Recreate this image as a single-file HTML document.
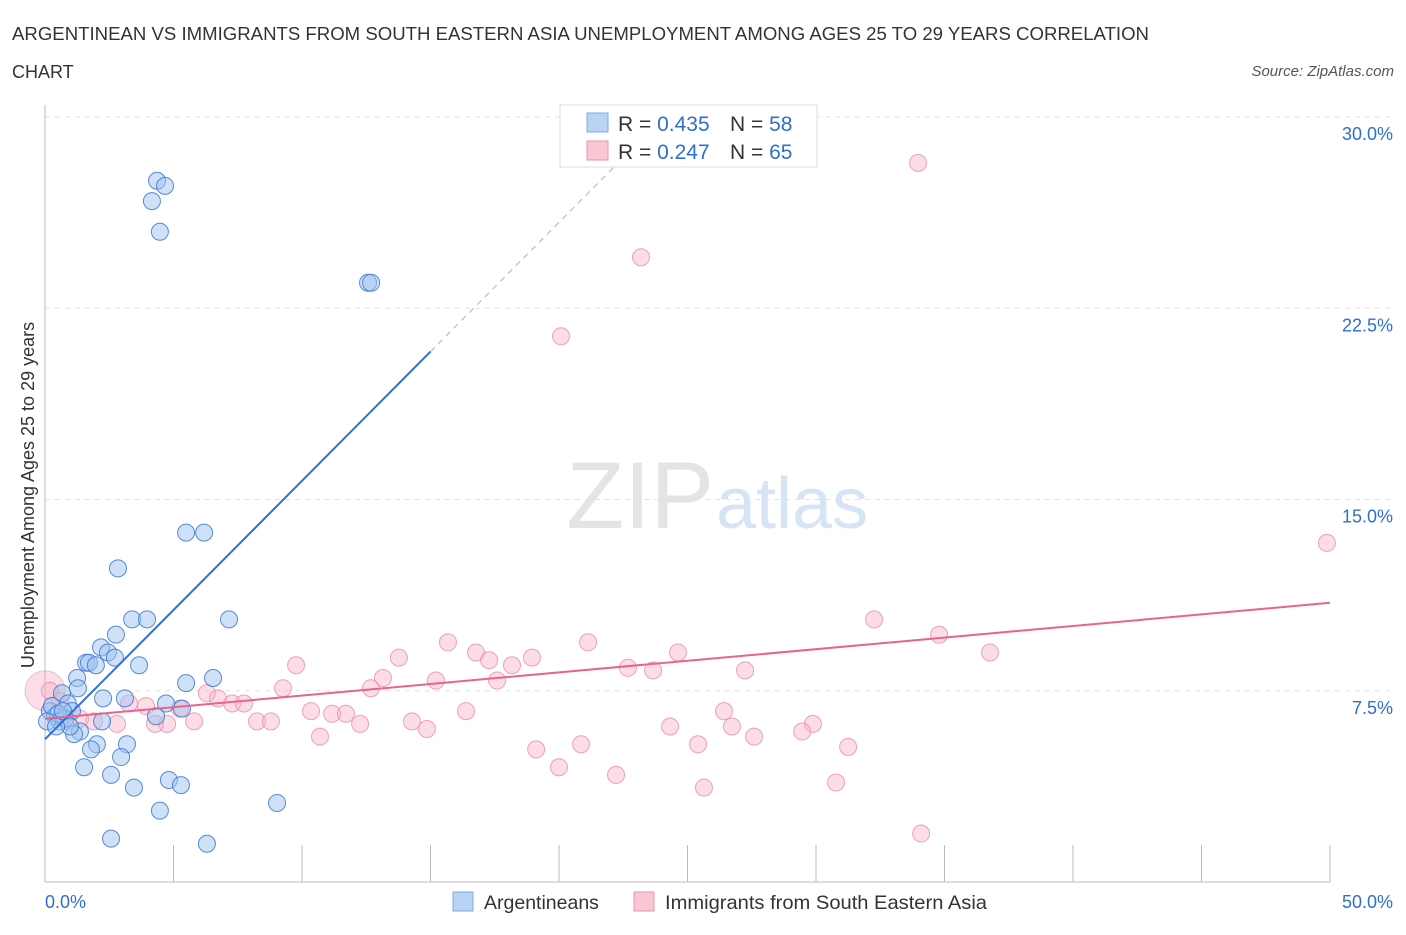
<!DOCTYPE html>
<html><head><meta charset="utf-8"><style>
body{margin:0;background:#fff;font-family:"Liberation Sans",sans-serif}
svg text{font-family:"Liberation Sans",sans-serif}
</style></head><body>
<svg id="c" width="1406" height="930">
<text x="12" y="40" font-size="18" fill="#333" textLength="1137" lengthAdjust="spacingAndGlyphs">ARGENTINEAN VS IMMIGRANTS FROM SOUTH EASTERN ASIA UNEMPLOYMENT AMONG AGES 25 TO 29 YEARS CORRELATION</text>
<text x="12" y="78" font-size="18" fill="#333">CHART</text>
<text x="1394" y="76" font-size="15" fill="#555" text-anchor="end" font-style="italic">Source: ZipAtlas.com</text>
<text x="714" y="528" font-size="95" fill="#e4e4e4" text-anchor="end" font-family="Liberation Serif">ZIP</text>
<text x="716" y="528" font-size="72" fill="#d6e4f5">atlas</text>
<g id="grid"></g><g id="axes"></g><g id="pts"></g><g id="lines"></g>
<text transform="translate(34,495) rotate(-90)" font-size="18" fill="#333" text-anchor="middle">Unemployment Among Ages 25 to 29 years</text>
<g>
<rect x="560" y="105" width="257" height="62" fill="#fff" stroke="#ddd"/>
<rect x="587" y="113" width="21" height="19" fill="#b8d3f5" stroke="#7ea8e0"/>
<rect x="587" y="141" width="21" height="19" fill="#f9c6d4" stroke="#eb93ad"/>
<text x="618" y="131" font-size="21" fill="#333">R = <tspan fill="#2f6fd0">0.435</tspan></text>
<text x="730" y="131" font-size="21" fill="#333">N = <tspan fill="#2f6fd0">58</tspan></text>
<text x="618" y="159" font-size="21" fill="#333">R = <tspan fill="#2f6fd0">0.247</tspan></text>
<text x="730" y="159" font-size="21" fill="#333">N = <tspan fill="#2f6fd0">65</tspan></text>
</g>
<g>
<rect x="453" y="892" width="20" height="19" fill="#b8d3f5" stroke="#7ea8e0"/>
<text x="484" y="909" font-size="19.5" fill="#333">Argentineans</text>
<rect x="634" y="892" width="20" height="19" fill="#f9c6d4" stroke="#eb93ad"/>
<text x="665" y="909" font-size="19.5" fill="#333" textLength="322" lengthAdjust="spacingAndGlyphs">Immigrants from South Eastern Asia</text>
</g>
</svg>
<script>
const yTicks=[7.5,15,22.5,30];
const yTickLabels=["7.5%","15.0%","22.5%","30.0%"];
const xTickLabels=["0.0%","50.0%"];
const blueX=[4.36,4.67,4.16,4.47,12.57,12.69,5.49,6.19,2.84,3.39,3.97,7.16,2.76,2.18,2.45,1.60,1.71,1.98,2.72,3.66,1.25,1.28,6.54,5.49,0.66,2.26,3.11,4.71,5.33,0.89,1.05,0.19,0.39,0.58,0.78,2.22,4.32,1.36,1.13,2.02,3.19,1.79,2.96,1.52,2.57,4.82,5.29,3.46,4.47,9.03,2.57,6.30,0.27,0.51,0.08,0.97,0.70,0.43];
const blueY=[27.5,27.3,26.7,25.5,23.5,23.5,13.7,13.7,12.3,10.3,10.3,10.3,9.7,9.2,9.0,8.6,8.6,8.5,8.8,8.5,8.0,7.6,8.0,7.8,7.4,7.2,7.2,7.0,6.8,7.0,6.7,6.7,6.5,6.3,6.4,6.3,6.5,5.9,5.8,5.4,5.4,5.2,4.9,4.5,4.2,4.0,3.8,3.7,2.8,3.1,1.7,1.5,6.9,6.6,6.3,6.1,6.7,6.1];
const pinkX=[33.97,23.19,20.08,49.88,32.26,34.79,36.77,21.13,15.68,16.77,17.28,18.95,18.17,24.63,22.68,23.66,27.24,13.77,13.15,9.77,9.26,12.68,15.21,17.59,6.30,6.73,7.28,7.74,3.27,3.93,5.25,10.35,11.17,11.71,16.38,14.28,14.86,12.26,10.70,8.25,8.79,5.80,4.75,4.28,2.80,1.91,0.89,1.36,26.42,24.32,26.73,29.88,29.46,27.59,25.41,20.86,19.11,31.25,20.0,22.22,25.64,30.78,34.09,0.19,0.58];
const pinkY=[28.2,24.5,21.4,13.3,10.3,9.7,9.0,9.4,9.4,9.0,8.7,8.8,8.5,9.0,8.4,8.3,8.3,8.8,8.0,8.5,7.6,7.6,7.9,7.9,7.4,7.2,7.0,7.0,7.0,6.9,6.8,6.7,6.6,6.6,6.7,6.3,6.0,6.2,5.7,6.3,6.3,6.3,6.2,6.2,6.2,6.3,6.3,6.4,6.7,6.1,6.1,6.2,5.9,5.7,5.4,5.4,5.2,5.3,4.5,4.2,3.7,3.9,1.9,7.5,7.1];
const blueFit=[[0,5.6],[15,20.8]];
const blueDash=[[15,20.8],[22.2,28.1]];
const pinkFit=[[0,6.4],[50,10.95]];
const X=v=>45+v*25.7, Y=v=>882-v*25.5;
const NS="http://www.w3.org/2000/svg";
function mk(t,a,p){const e=document.createElementNS(NS,t);for(const k in a)e.setAttribute(k,a[k]);document.getElementById(p).appendChild(e);return e;}
yTicks.forEach((t,i)=>{
 const g=mk('line',{x1:45,x2:1390,y1:Y(t),y2:Y(t),stroke:'#e2e2e2','stroke-dasharray':'5,5'},'grid');
 
 
 const l=mk('text',{x:1393,y:Y(t)+23,'font-size':18,fill:'#2f6fd0','text-anchor':'end'},'axes');l.textContent=yTickLabels[i];
 
 
});
const ax=mk('line',{x1:45,x2:45,y1:105,y2:882,stroke:'#bbb'},'axes');


const bx=mk('line',{x1:45,x2:1330,y1:882,y2:882,stroke:'#bbb'},'axes');


for(let i=0;i<=10;i++){const t=mk('line',{x1:X(i*5),x2:X(i*5),y1:845,y2:882,stroke:'#bbb'},'axes');
 
 }
[[0,45,'start'],[50,1393,'end']].forEach((d,i)=>{const l=mk('text',{x:d[1],y:908,'font-size':18,fill:'#2f6fd0','text-anchor':d[2]},'axes');l.textContent=xTickLabels[i];
 
 });
const big=mk('circle',{cx:X(0),cy:Y(7.5),r:20,fill:'rgba(244,160,185,0.35)',stroke:'rgba(235,140,170,0.5)'},'pts');


pinkX.forEach((x,i)=>{const c=mk('circle',{cx:X(x),cy:Y(pinkY[i]),r:8.5,fill:'rgba(248,180,200,0.45)',stroke:'rgba(235,140,170,0.8)','stroke-width':1},'pts');
 
 });
blueX.forEach((x,i)=>{const c=mk('circle',{cx:X(x),cy:Y(blueY[i]),r:8.5,fill:'rgba(160,195,240,0.5)',stroke:'rgba(60,120,210,0.85)','stroke-width':1},'pts');
 
 });
const l1=mk('line',{x1:X(blueFit[0][0]),y1:Y(blueFit[0][1]),x2:X(blueFit[1][0]),y2:Y(blueFit[1][1]),stroke:'#2f6fd0','stroke-width':2},'lines');


const l2=mk('line',{x1:X(blueDash[0][0]),y1:Y(blueDash[0][1]),x2:X(blueDash[1][0]),y2:Y(blueDash[1][1]),stroke:'#9bb',"stroke-dasharray":'6,5','stroke-width':1},'lines');


const l3=mk('line',{x1:X(pinkFit[0][0]),y1:Y(pinkFit[0][1]),x2:X(pinkFit[1][0]),y2:Y(pinkFit[1][1]),stroke:'#e8638f','stroke-width':2},'lines');


</script>
</body></html>
